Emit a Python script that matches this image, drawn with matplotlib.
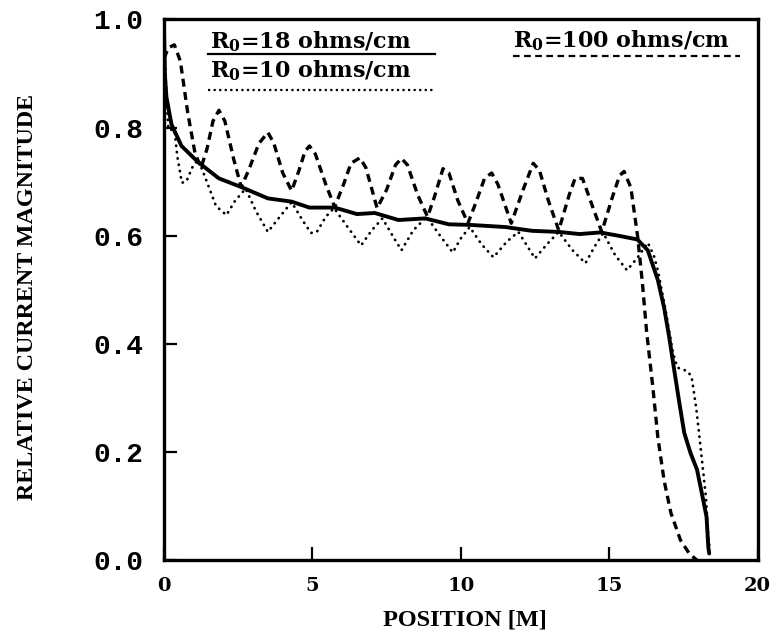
import matplotlib
matplotlib.use("Agg")
import matplotlib.pyplot as plt
from matplotlib.lines import Line2D

# R0 = 18 ohms/cm (solid)
x18 = [0.0, 0.03, 0.08, 0.25, 0.59, 1.15, 1.85, 2.6, 3.5, 4.3, 4.9, 5.75, 6.5, 7.1,
       7.9, 8.8, 9.6, 10.3, 11.5, 12.4, 13.3, 14.0, 14.7, 15.4, 15.95, 16.3, 16.64,
       16.85, 17.02, 17.19, 17.36, 17.53, 17.74, 17.96, 18.15, 18.28, 18.34, 18.37]
y18 = [0.978, 0.897, 0.857, 0.806, 0.766, 0.736, 0.706, 0.690, 0.669, 0.663, 0.652,
       0.652, 0.640, 0.642, 0.629, 0.632, 0.621, 0.620, 0.616, 0.609, 0.607, 0.603,
       0.606, 0.599, 0.593, 0.573, 0.518, 0.467, 0.413, 0.352, 0.292, 0.235, 0.198,
       0.167, 0.116, 0.080, 0.024, 0.012]

# R0 = 100 ohms/cm (dashed)
x100 = [0.0, 0.15, 0.35, 0.55, 0.8, 1.05, 1.25, 1.45, 1.65, 1.85, 2.05, 2.35, 2.6,
        2.85, 3.2, 3.5, 3.7, 4.0, 4.3, 4.55, 4.75, 4.9, 5.1, 5.45, 5.75, 6.05, 6.3,
        6.6, 6.8, 7.18, 7.5, 7.8, 8.0, 8.2, 8.55, 8.88, 9.1, 9.4, 9.6, 9.9, 10.24,
        10.5, 10.8, 11.04, 11.25, 11.7, 12.1, 12.44, 12.65, 12.95, 13.3, 13.65,
        13.85, 14.1, 14.4, 14.75, 15.1, 15.35, 15.5, 15.73, 15.96, 16.12, 16.26,
        16.47, 16.64, 16.85, 17.08, 17.4, 17.71, 17.95]
y100 = [0.928, 0.948, 0.953, 0.923, 0.827, 0.751, 0.726, 0.761, 0.812, 0.832, 0.812,
        0.741, 0.690, 0.721, 0.771, 0.791, 0.771, 0.716, 0.683, 0.721, 0.756, 0.766,
        0.751, 0.695, 0.653, 0.695, 0.734, 0.744, 0.726, 0.651, 0.685, 0.731, 0.743,
        0.731, 0.675, 0.635, 0.670, 0.724, 0.716, 0.665, 0.623, 0.660, 0.706, 0.716,
        0.695, 0.623, 0.685, 0.734, 0.721, 0.665, 0.610, 0.675, 0.706, 0.706, 0.660,
        0.607, 0.670, 0.711, 0.719, 0.689, 0.598, 0.512, 0.423, 0.320, 0.227, 0.147,
        0.087, 0.037, 0.011, 0.0]

# R0 = 10 ohms/cm (dotted)
x10 = [0.0, 0.1, 0.15, 0.35, 0.45, 0.6, 0.75, 0.95, 1.15, 1.4, 1.75, 2.1, 2.4, 2.75,
       3.1, 3.5, 3.9, 4.3, 4.65, 4.95, 5.15, 5.45, 5.73, 6.2, 6.64, 7.0, 7.36, 7.7,
       8.0, 8.4, 8.85, 9.3, 9.73, 10.0, 10.3, 10.7, 11.1, 11.55, 11.94, 12.5, 12.9,
       13.3, 13.75, 14.2, 14.5, 14.8, 15.2, 15.6, 15.95, 16.3, 16.5, 16.64, 16.9,
       17.15, 17.3, 17.5, 17.65, 17.78, 17.94, 18.1, 18.26, 18.34, 18.39]
y10 = [0.968, 0.837, 0.796, 0.796, 0.746, 0.698, 0.700, 0.726, 0.741, 0.706, 0.655,
       0.638, 0.665, 0.687, 0.645, 0.607, 0.635, 0.662, 0.630, 0.605, 0.607, 0.635,
       0.651, 0.615, 0.582, 0.610, 0.632, 0.600, 0.573, 0.610, 0.635, 0.600, 0.569,
       0.595, 0.616, 0.584, 0.560, 0.589, 0.607, 0.558, 0.584, 0.607, 0.574, 0.549,
       0.579, 0.605, 0.564, 0.536, 0.559, 0.587, 0.564, 0.536, 0.462, 0.383, 0.356,
       0.352, 0.349, 0.338, 0.278, 0.198, 0.116, 0.042, 0.019]

xticks = [0, 5, 10, 15, 20]
yticks = [0.0, 0.2, 0.4, 0.6, 0.8, 1.0]

serif = "DejaVu Serif"
narrow = "Liberation Serif"
mono = "Liberation Mono"

fig = plt.figure(figsize=(7.77, 6.43), dpi=100)
ax = fig.add_axes([0.2111, 0.1291, 0.7639, 0.8406])

ax.plot(x18, y18, color="black", lw=2.8, ls="-", solid_capstyle="round")
ax.plot(x100, y100, color="black", lw=2.4, ls=(0, (2.4, 1.6)))
ax.plot(x10, y10, color="black", lw=2.0, ls=(0, (0.1, 2.2)), dash_capstyle="round")

ax.set_xlim(0, 20)
ax.set_ylim(0, 1.0)
ax.set_xticks(xticks)
ax.set_yticks(yticks)
ax.set_xticklabels([str(t) for t in xticks], fontfamily=serif, fontweight="bold", fontsize=14)
ax.set_yticklabels(["%.1f" % t for t in yticks], fontfamily=mono, fontweight="bold", fontsize=20)
ax.tick_params(direction="in", length=9.5, width=1.6)
ax.tick_params(axis="y", pad=15)
ax.tick_params(axis="x", pad=12)
for s in ax.spines.values():
    s.set_linewidth(2.4)

ax.set_xlabel("POSITION [M]", fontfamily=narrow, fontweight="bold", fontsize=17.5)
ax.set_ylabel("RELATIVE CURRENT MAGNITUDE", fontfamily=narrow, fontweight="bold",
              fontsize=17.3)
ax.xaxis.set_label_coords(0.507, -0.092)
ax.yaxis.set_label_coords(-0.212, 0.487)

# legend: text with a sample line drawn underneath
txt = dict(transform=ax.transAxes, fontfamily=serif, fontweight="bold", fontsize=16)
ax.text(0.0775, 0.947, r"R$_\mathregular{0}$=18 ohms/cm", **txt)
ax.text(0.0775, 0.892, r"R$_\mathregular{0}$=10 ohms/cm", **txt)
ax.text(0.588, 0.949, r"R$_\mathregular{0}$=100 ohms/cm", **txt)
ax.add_line(Line2D([0.074, 0.457], [0.936, 0.936], transform=ax.transAxes,
                   color="black", lw=1.6))
ax.add_line(Line2D([0.074, 0.453], [0.870, 0.870], transform=ax.transAxes,
                   color="black", lw=1.6, ls=(0, (1, 1.5))))
ax.add_line(Line2D([0.588, 0.970], [0.932, 0.932], transform=ax.transAxes,
                   color="black", lw=1.6, ls=(0, (3, 2))))

fig.savefig("out.png", dpi=100)
